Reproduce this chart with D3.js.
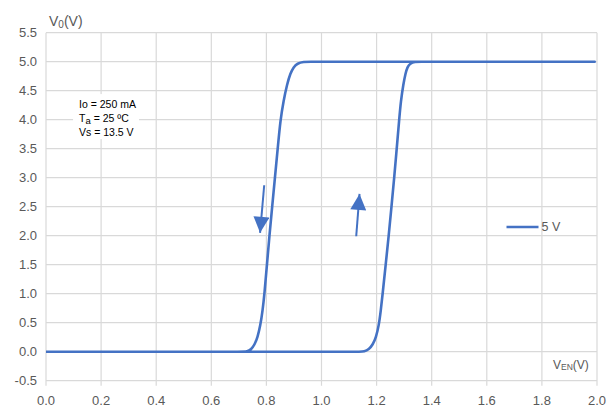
<!DOCTYPE html>
<html><head><meta charset="utf-8">
<script src="https://cdn.jsdelivr.net/npm/d3@7"></script>
<style>body{margin:0;background:#fff}svg{display:block;font-family:"Liberation Sans",Arial,sans-serif}</style>
</head><body><svg id="c" width="614" height="410"></svg>
<script>
// ---- data ----
const xTicks = [0.0,0.2,0.4,0.6,0.8,1.0,1.2,1.4,1.6,1.8,2.0];
const yTicks = [-0.5,0.0,0.5,1.0,1.5,2.0,2.5,3.0,3.5,4.0,4.5,5.0,5.5];
// hysteresis loop: EN swept up (0 -> 2 V), then back down (2 -> 0 V)
const upX   = [0.00,0.00,0.40,0.80,1.00,1.10,1.14,1.155,1.172,1.186,1.198,1.208,1.215,1.222,1.233,1.244,1.254,1.264,1.273,1.282,1.288,1.297,1.305,1.312,1.322,1.338,1.36,1.40,1.60,1.80,2.00];
const upY   = [0.00,0.00,0.00,0.00,0.00,0.00,0.00,0.00, 0.04, 0.12, 0.25, 0.45, 0.70, 1.00, 1.50, 2.00, 2.50, 3.00, 3.50, 4.00, 4.32, 4.61, 4.80, 4.91, 4.97, 5.00,5.00,5.00,5.00,5.00,5.00];
const downX = [2.00,1.80,1.60,1.40,1.20,1.00,0.96,0.935,0.912,0.899,0.887,0.875,0.862,0.851,0.841,0.831,0.821,0.811,0.802,0.793,0.786,0.778,0.768,0.757,0.745,0.730,0.71,0.60,0.40,0.20,0.00,0.00];
const downY = [5.00,5.00,5.00,5.00,5.00,5.00,5.00,5.00, 4.97, 4.91, 4.80, 4.61, 4.32, 4.00, 3.50, 3.00, 2.50, 2.00, 1.50, 1.00, 0.70, 0.45, 0.25, 0.12, 0.04, 0.00,0.00,0.00,0.00,0.00,0.00,0.00];
const seriesName = "5 V";
const notes = ["Io = 250 mA", ["T","a"," = 25 ºC"], "Vs = 13.5 V"];
const arrows = [ {x1:0.792,y1:2.87,x2:0.777,y2:2.05}, {x1:1.126,y1:1.99,x2:1.138,y2:2.72} ];

// ---- chart ----
const svg = d3.select("#c");
const L=46, R=597, T=32.7, B=380.7;
const x = d3.scaleLinear().domain([0,2]).range([L,R]);
const y = d3.scaleLinear().domain([-0.5,5.5]).range([B,T]);
const grid="#d9d9d9", txt="#595959", blue="#4472C4";

// gridlines
svg.append("g").selectAll("line").data(xTicks).join("line")
  .attr("x1",d=>x(d)).attr("x2",d=>x(d)).attr("y1",T).attr("y2",B+5)
  .attr("stroke",grid).attr("stroke-width",1.2);
svg.append("g").selectAll("line").data(yTicks).join("line")
  .attr("x1",L).attr("x2",R).attr("y1",d=>y(d)).attr("y2",d=>y(d))
  .attr("stroke",grid).attr("stroke-width",1.2);

// tick labels
svg.append("g").selectAll("text").data(yTicks).join("text")
  .attr("x",L-9).attr("y",d=>y(d)).attr("dy","0.35em").attr("text-anchor","end")
  .attr("font-size",13).attr("fill",txt).text(d=>d.toFixed(1));
svg.append("g").selectAll("text").data(xTicks).join("text")
  .attr("x",d=>x(d)).attr("y",405).attr("text-anchor","middle")
  .attr("font-size",13).attr("fill",txt).text(d=>d.toFixed(1));

// axis titles
const t1 = svg.append("text").attr("x",49).attr("y",26).attr("font-size",14).attr("fill",txt);
t1.append("tspan").text("V");
t1.append("tspan").attr("font-size",10).attr("dy",2).text("0");
t1.append("tspan").attr("dy",-2).text("(V)");
const t2 = svg.append("text").attr("x",553).attr("y",369).attr("font-size",12).attr("fill",txt);
t2.append("tspan").text("V");
t2.append("tspan").attr("font-size",8.5).attr("dy",1).text("EN");
t2.append("tspan").attr("dy",-1).text("(V)");

// annotation box
const ax = x(0.12), ay = y(4.2);
svg.append("rect").attr("x",ax-6).attr("y",ay-14).attr("width",66).attr("height",45).attr("fill","#fff");
const ng = svg.append("g").attr("font-size",10.5).attr("fill","#000");
ng.append("text").attr("x",ax).attr("y",ay).text(notes[0]);
const n2 = ng.append("text").attr("x",ax).attr("y",ay+13.5);
n2.append("tspan").text(notes[1][0]);
n2.append("tspan").attr("font-size",9.5).attr("dy",2).text(notes[1][1]);
n2.append("tspan").attr("dy",-2).text(notes[1][2]);
ng.append("text").attr("x",ax).attr("y",ay+27.5).text(notes[2]);

// curve
const pts = upX.map((v,i)=>[v,upY[i]]).concat(downX.map((v,i)=>[v,downY[i]]));
svg.append("path").datum(pts)
  .attr("d",d3.line().x(d=>x(d[0])).y(d=>y(d[1])).curve(d3.curveBasis))
  .attr("fill","none").attr("stroke",blue).attr("stroke-width",2.6).attr("stroke-linejoin","round");

// arrows
svg.append("defs").append("marker").attr("id","ah")
  .attr("markerUnits","userSpaceOnUse").attr("viewBox","0 0 16 16")
  .attr("markerWidth",17).attr("markerHeight",16).attr("refX",16).attr("refY",8).attr("orient","auto")
  .append("path").attr("d","M0,0L16,8L0,16Z").attr("fill",blue);
svg.append("g").selectAll("line").data(arrows).join("line")
  .attr("x1",d=>x(d.x1)).attr("y1",d=>y(d.y1)).attr("x2",d=>x(d.x2)).attr("y2",d=>y(d.y2))
  .attr("stroke",blue).attr("stroke-width",2).attr("marker-end","url(#ah)");

// legend
const ly = y(2.15);
svg.append("line").attr("x1",506.5).attr("x2",538.5).attr("y1",ly).attr("y2",ly)
  .attr("stroke",blue).attr("stroke-width",2.6);
svg.append("text").attr("x",541.5).attr("y",ly).attr("dy","0.35em").attr("font-size",12.5)
  .attr("fill",txt).text(seriesName);
</script></body></html>
